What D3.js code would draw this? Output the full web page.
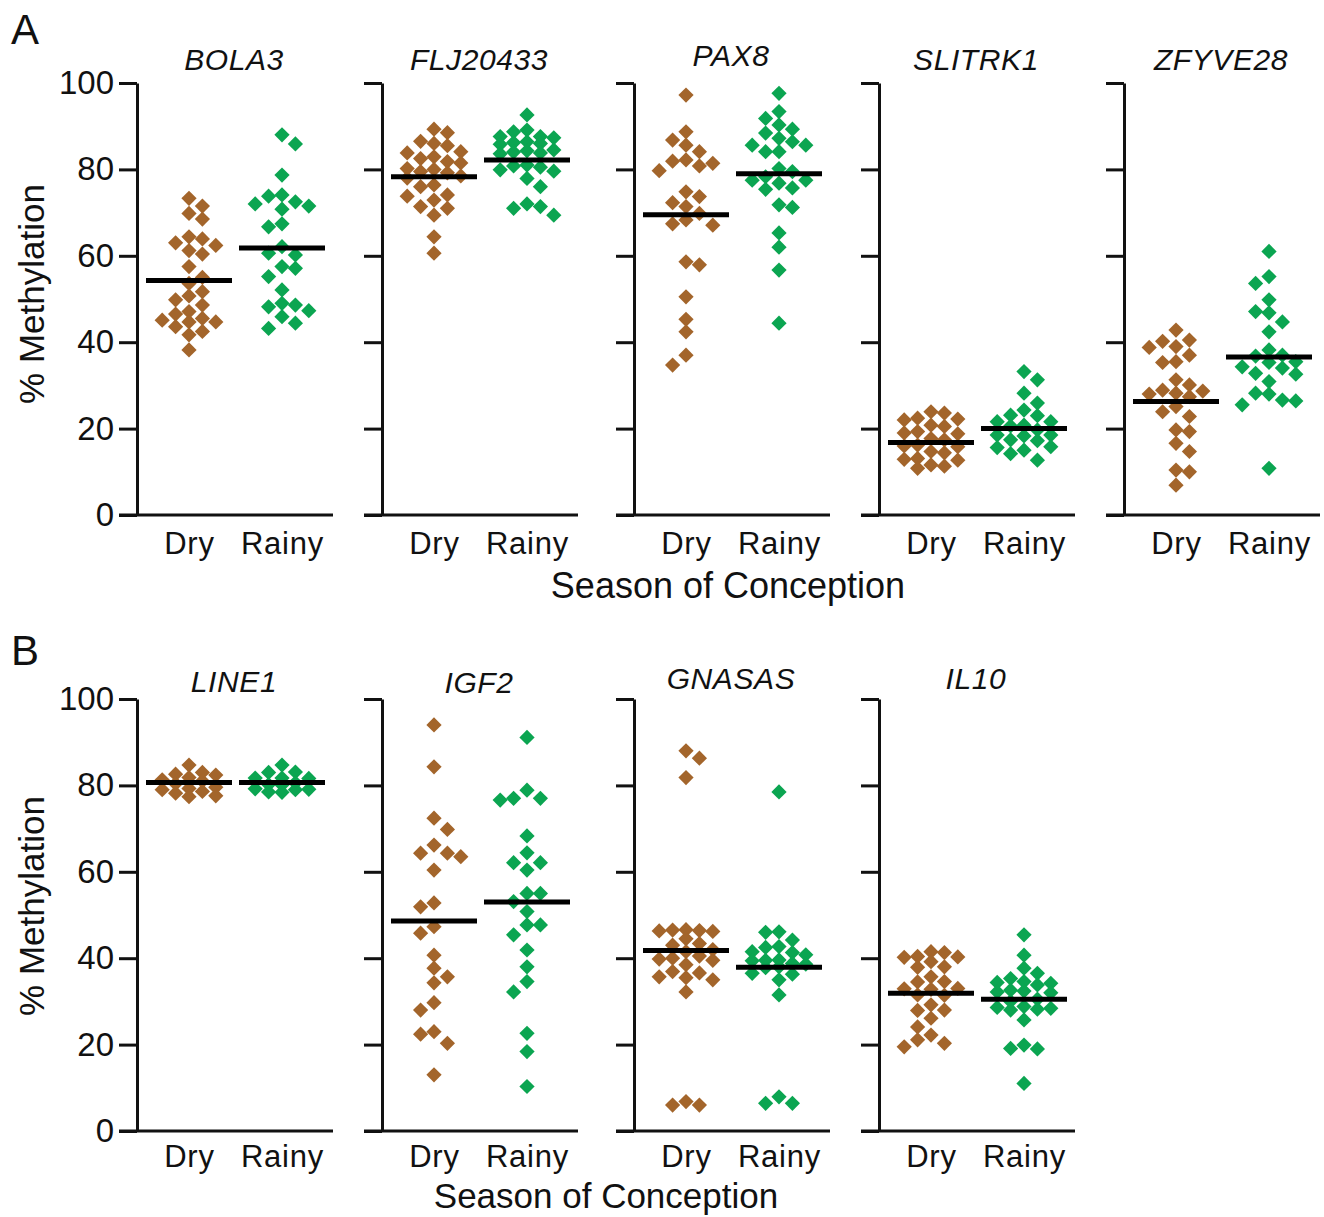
<!DOCTYPE html>
<html><head><meta charset="utf-8">
<script src="https://cdn.jsdelivr.net/npm/d3@7"></script>
<style>
html,body{margin:0;padding:0;background:#fff;}
text{font-family:"Liberation Sans",Arial,Helvetica,sans-serif;fill:#111;}
</style></head>
<body><svg id="c" width="1324" height="1217"></svg>
<script>
// ---------- data ----------
const seasons = ["Dry", "Rainy"];
const yTicks = [0, 20, 40, 60, 80, 100];
const genesA = ["BOLA3", "FLJ20433", "PAX8", "SLITRK1", "ZFYVE28"];
const genesB = ["LINE1", "IGF2", "GNASAS", "IL10"];

const bola3Dry = [73.3,71.5,69.8,68.5,64.4,63.9,63.0,62.4,61.2,60.4,57.5,55.0,53.6,51.7,50.7,49.8,48.6,47.1,46.5,45.5,44.7,44.7,45.1,43.6,42.5,41.7,38.2];
const bola3Rainy = [88.0,85.9,78.7,74.1,73.8,72.5,72.0,71.5,70.8,67.4,66.7,62.1,60.6,60.2,57.5,57.1,55.2,52.1,49.0,48.6,48.2,47.3,45.9,44.4,43.2];
const flj20433Dry = [89.3,88.5,86.5,86.0,85.5,84.1,83.8,82.9,82.5,81.8,81.5,80.2,80.0,79.5,79.2,78.5,78.0,76.4,76.0,74.1,73.8,72.9,71.4,71.0,69.4,64.4,60.6];
const flj20433Rainy = [92.6,89.1,88.7,87.6,87.6,87.3,86.4,86.2,86.0,85.8,84.5,84.3,84.0,83.8,83.6,81.0,80.8,80.5,79.9,79.6,77.9,76.0,72.0,71.4,71.0,69.4];
const pax8Dry = [97.2,88.7,86.8,85.6,84.1,82.2,81.9,81.4,80.8,79.7,74.8,73.7,72.3,71.4,69.8,68.3,67.4,67.1,57.9,58.6,50.5,45.3,42.4,37.0,34.7];
const pax8Rainy = [97.6,93.4,91.8,90.3,89.3,88.4,87.2,86.4,85.6,85.6,84.1,84.1,80.2,79.5,78.3,77.5,77.5,76.8,75.7,75.4,71.8,71.2,65.3,62.0,56.7,44.4];
const slitrk1Dry = [23.9,23.6,22.4,22.2,22.0,20.8,20.5,19.3,19.0,18.8,17.7,17.4,16.2,16.0,15.8,14.7,14.4,13.1,12.9,12.7,11.6,11.3,10.8];
const slitrk1Rainy = [33.2,31.3,28.2,25.9,24.3,23.1,23.0,21.6,21.6,20.8,20.6,19.7,18.5,18.5,18.3,17.4,17.2,15.8,15.6,15.0,14.2,12.7];
const zfyve28Dry = [42.8,40.5,40.2,39.0,38.8,37.0,35.5,35.3,31.3,30.1,28.9,28.7,28.2,28.0,27.4,25.1,23.9,22.8,19.7,19.3,16.6,14.7,10.4,10.0,6.9];
const zfyve28Rainy = [61.0,55.2,53.6,49.8,47.1,46.8,44.7,42.4,38.2,37.0,36.8,35.5,35.3,34.3,34.0,32.8,32.6,30.9,28.2,28.0,26.6,26.4,25.5,10.8];

const line1Dry = [84.7,83.0,82.6,82.4,81.8,81.3,81.0,80.4,79.6,79.3,79.0,78.6,78.2,77.6,77.4];
const line1Rainy = [84.7,83.1,83.0,81.7,81.6,81.7,80.6,80.2,80.1,79.2,79.1,79.0,78.5,78.4];
const igf2Dry = [94.0,84.3,72.4,69.8,66.2,64.3,64.3,63.5,60.4,52.8,51.9,47.3,45.8,40.7,37.7,35.7,34.3,29.7,28.0,23.0,22.4,20.3,13.0];
const igf2Rainy = [91.1,78.9,77.0,77.0,76.6,68.3,64.4,62.1,62.1,60.4,55.0,55.0,53.1,50.8,47.7,47.7,45.4,41.9,38.0,34.6,32.2,22.6,18.4,10.3];
const gnasasDry = [88.0,86.3,81.8,46.6,46.5,46.4,46.3,46.2,44.5,43.4,43.0,42.0,41.5,40.5,40.0,39.8,39.5,38.5,36.9,36.6,35.7,35.5,35.0,32.2,6.0,6.0,6.8];
const gnasasRainy = [78.5,46.1,46.0,44.2,42.7,42.5,41.5,41.3,40.8,39.6,39.5,39.4,38.8,38.6,38.0,37.8,36.5,36.3,35.0,31.5,6.4,6.4,7.9];
const il10Dry = [41.5,41.3,40.4,40.3,40.2,39.2,38.0,37.9,35.7,34.6,34.5,33.0,32.9,32.8,31.5,31.4,29.2,28.0,27.9,26.1,24.1,22.2,21.1,20.3,19.5];
const il10Rainy = [45.4,40.7,37.7,36.5,35.3,34.6,34.4,34.2,33.8,32.6,32.4,32.2,32.0,30.5,30.0,28.8,28.6,28.4,28.2,28.0,25.7,19.9,19.1,19.0,11.0];

const meansA = [[54.3, 61.8], [78.3, 82.2], [69.5, 79.0], [16.8, 20.0], [26.3, 36.6]];
const meansB = [[80.7, 80.7], [48.6, 53.0], [41.8, 37.9], [31.9, 30.5]];

const valuesA = [[bola3Dry, bola3Rainy], [flj20433Dry, flj20433Rainy], [pax8Dry, pax8Rainy], [slitrk1Dry, slitrk1Rainy], [zfyve28Dry, zfyve28Rainy]];
const valuesB = [[line1Dry, line1Rainy], [igf2Dry, igf2Rainy], [gnasasDry, gnasasRainy], [il10Dry, il10Rainy]];

// ---------- layout ----------
const colors = {Dry: "#a3652b", Rainy: "#0ba551"};
const axisX = [137, 382, 634, 879, 1124];
const rows = [
  {label: "A", labelY: 44, top: 83, bottom: 515, genes: genesA, values: valuesA, means: meansA, titleY: [70,70,66,70,70], xTitleY: 598, xTitleSize: 36, tickPad: 17, yTitleY: 294, xTitleX: 728},
  {label: "B", labelY: 665, top: 699, bottom: 1131, genes: genesB, values: valuesB, means: meansB, titleY: [692,693,689,689], xTitleY: 1208, xTitleSize: 35, tickPad: 14, yTitleY: 906, xTitleX: 606}
];

const svg = d3.select("#c");
const symbol = d3.symbol().type(d3.symbolSquare).size(116)();

function swarm(vals, cx, y, step, minDy, maxCol) {
  const placed = [];
  const sorted = vals.slice().sort((a, b) => b - a);
  const out = [];
  sorted.forEach((v, i) => {
    const py = y(v);
    const order = [0];
    for (let k = 1; k <= maxCol; k++) { if (i % 2) order.push(k, -k); else order.push(-k, k); }
    let chosen = null, bestC = 0, bestD = -1;
    for (const c of order) {
      let dmin = Infinity;
      placed.forEach(p => { if (p.col === c) dmin = Math.min(dmin, Math.abs(p.py - py)); });
      if (dmin >= minDy) { chosen = c; break; }
      if (dmin > bestD) { bestD = dmin; bestC = c; }
    }
    if (chosen === null) chosen = bestC;
    placed.push({col: chosen, py});
    out.push({v, x: cx + chosen * step, y: py});
  });
  return out;
}

rows.forEach(row => {
  svg.append("text").attr("x", 11).attr("y", row.labelY).attr("font-size", 42).text(row.label);

  const y = d3.scaleLinear().domain([0, 100]).range([row.bottom, row.top]);

  row.genes.forEach((gene, gi) => {
    const ax = axisX[gi];
    const g = svg.append("g");
    const x = d3.scalePoint().domain(seasons).range([ax + 52, ax + 145]);

    // y axis
    const yAxis = d3.axisLeft(y).tickValues(yTicks).tickSize(18).tickSizeOuter(0)
      .tickFormat(gi === 0 ? d3.format("d") : () => "");
    const ya = g.append("g").attr("transform", `translate(${ax},0)`).call(yAxis);
    ya.select(".domain").attr("stroke", "#111").attr("stroke-width", 3);
    ya.selectAll(".tick line").attr("stroke", "#111").attr("stroke-width", 3);
    ya.selectAll(".tick text").attr("x", -23).attr("font-size", 33).attr("font-family", "Liberation Sans, Arial, sans-serif").attr("fill", "#111");

    // x axis baseline
    g.append("line").attr("x1", ax - 18).attr("x2", ax + 196)
      .attr("y1", y(0)).attr("y2", y(0)).attr("stroke", "#111").attr("stroke-width", 3);
    const xAxis = d3.axisBottom(x).tickSize(0).tickPadding(row.tickPad);
    const xa = g.append("g").attr("transform", `translate(0,${y(0)})`).call(xAxis);
    xa.select(".domain").remove();
    xa.selectAll(".tick text").attr("font-size", 31).attr("letter-spacing", 0.8)
      .attr("font-family", "Liberation Sans, Arial, sans-serif").attr("fill", "#111");

    // title
    g.append("text").attr("x", ax + 97).attr("y", row.titleY[gi]).attr("text-anchor", "middle")
      .attr("font-size", 30).attr("font-style", "italic").attr("letter-spacing", 0.6).text(gene);

    // points
    seasons.forEach((s, si) => {
      const pts = swarm(row.values[gi][si], x(s), y, 13.4, 12.5, 2);
      g.selectAll(null).data(pts).enter().append("path")
        .attr("d", symbol)
        .attr("transform", d => `translate(${d.x},${d.y}) rotate(45)`)
        .attr("fill", colors[s]);
    });
    // mean lines
    seasons.forEach((s, si) => {
      const m = row.means[gi][si];
      g.append("line").attr("x1", x(s) - 43).attr("x2", x(s) + 43)
        .attr("y1", y(m)).attr("y2", y(m)).attr("stroke", "#000").attr("stroke-width", 5);
    });
  });

  svg.append("text").attr("transform", `translate(44,${row.yTitleY}) rotate(-90)`)
    .attr("text-anchor", "middle").attr("font-size", 35).text("% Methylation");
  svg.append("text").attr("x", row.xTitleX).attr("y", row.xTitleY).attr("text-anchor", "middle")
    .attr("font-size", row.xTitleSize).text("Season of Conception");
});
</script></body></html>
